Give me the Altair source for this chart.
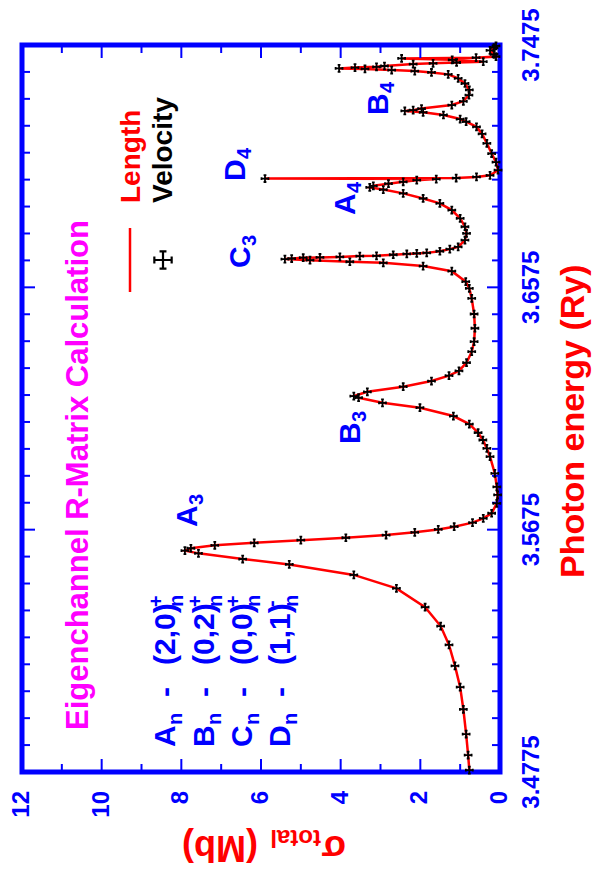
import altair as alt
import pandas as pd

# ---------------- data ----------------
energy = [3.4782, 3.4838, 3.4916, 3.5008, 3.5090, 3.5169, 3.5247, 3.5317, 3.5387, 3.5457,
          3.5507, 3.5546, 3.5566, 3.5587, 3.5597, 3.5606, 3.5617, 3.5626, 3.5636, 3.5645,
          3.5655, 3.5665, 3.5676, 3.5686, 3.5701, 3.5717, 3.5736, 3.5773, 3.5804, 3.5834,
          3.5884, 3.5946, 3.5977, 3.6008, 3.6035, 3.6067, 3.6097, 3.6128, 3.6146, 3.6165,
          3.6171, 3.6187, 3.6206, 3.6227, 3.6247, 3.6265, 3.6295, 3.6336, 3.6373, 3.6423,
          3.6476, 3.6534, 3.6571, 3.6596, 3.6635, 3.6654, 3.6666, 3.6670, 3.6676, 3.6680,
          3.6682, 3.6685, 3.6686, 3.6688, 3.6691, 3.6692, 3.6696, 3.6699, 3.6701, 3.6703,
          3.6709, 3.6717, 3.6725, 3.6750, 3.6775, 3.6800, 3.6831, 3.6862, 3.6887, 3.6905,
          3.6924, 3.6938, 3.6946, 3.6952, 3.6960, 3.6967, 3.6973, 3.6977, 3.6979, 3.6981,
          3.6985, 3.6991, 3.7010, 3.7040, 3.7072, 3.7110, 3.7145, 3.7171, 3.7190, 3.7200,
          3.7215, 3.7225, 3.7230, 3.7233, 3.7239, 3.7252, 3.7266, 3.7289, 3.7308, 3.7332,
          3.7351, 3.7366, 3.7373, 3.7378, 3.7382, 3.7386, 3.7388, 3.7391, 3.7394, 3.7397,
          3.7404, 3.7407, 3.7410, 3.7413, 3.7420, 3.7425, 3.7428, 3.7432, 3.7440, 3.7455,
          3.7465, 3.7472]
sigma = [0.77, 0.80, 0.85, 0.92, 1.00, 1.13, 1.28, 1.49, 1.88, 2.60,
         3.67, 5.29, 6.46, 7.57, 7.91, 7.76, 7.16, 6.17, 5.00, 3.87,
         2.86, 2.14, 1.55, 1.15, 0.69, 0.42, 0.21, 0.08, 0.06, 0.08,
         0.13, 0.25, 0.33, 0.43, 0.55, 0.77, 1.17, 2.01, 2.95, 3.55,
         3.67, 3.33, 2.43, 1.72, 1.28, 1.03, 0.84, 0.71, 0.65, 0.63,
         0.65, 0.71, 0.77, 0.86, 1.21, 1.93, 2.93, 3.77, 4.77, 5.40,
         5.23, 4.94, 4.52, 4.02, 3.52, 3.10, 2.68, 2.34, 2.09, 1.84,
         1.51, 1.26, 1.05, 0.88, 0.84, 0.88, 1.00, 1.21, 1.51, 1.93,
         2.43, 2.93, 3.27, 3.18, 2.80, 2.43, 2.09, 1.60, 5.90, 1.10,
         0.59, 0.25, 0.05, 0.10, 0.21, 0.33, 0.45, 0.59, 0.85, 1.00,
         1.42, 1.93, 2.39, 2.18, 1.97, 1.21, 0.92, 0.78, 0.77, 0.88,
         1.05, 1.30, 1.72, 2.14, 2.72, 3.39, 4.04, 3.64, 3.10, 2.90,
         2.18, 1.68, 1.09, 0.42, 1.20, 2.47, 0.60, 0.10, 0.15, 0.25,
         0.15, 0.10]

sigma_labels = [0, 2, 4, 6, 8, 10, 12]
sigma_major_ticks = [2, 4, 6, 8, 10]
sigma_minor_ticks = [1, 3, 5, 7, 9, 11]
energy_labels = [3.4775, 3.5675, 3.6575, 3.7475]
energy_major_ticks = [3.5675, 3.6575]
energy_minor_ticks = [3.4875, 3.4975, 3.5075, 3.5175, 3.5275, 3.5375, 3.5475, 3.5575,
                      3.5775, 3.5875, 3.5975, 3.6075, 3.6175, 3.6275, 3.6375, 3.6475,
                      3.6675, 3.6775, 3.6875, 3.6975, 3.7075, 3.7175, 3.7275, 3.7375]

# ---------------- layout ----------------
W, H = 478, 727
PL, PT = 22, 45
BLUE, RED, MAG = "#0000ff", "#ff0000", "#ff00ff"
FONT = "Liberation Sans"

xs = alt.Scale(domain=[0, 12], reverse=True, nice=False, zero=False)
ys = alt.Scale(domain=[3.4775, 3.7475], nice=False, zero=False)

df = pd.DataFrame({"E": energy, "S": sigma, "i": list(range(len(energy)))})

line = alt.Chart(df).mark_line(color=RED, strokeWidth=2.5).encode(
    x=alt.X("S:Q", scale=xs, axis=None),
    y=alt.Y("E:Q", scale=ys, axis=None),
    order="i:Q",
)

PLUS = ("M-1,0L1,0M0,-1L0,1M-1,-0.4L-1,0.4M1,-0.4L1,0.4"
        "M-0.4,-1L0.4,-1M-0.4,1L0.4,1")

pts = alt.Chart(df).mark_point(shape=PLUS, filled=False, color="black",
                               strokeWidth=1.8, size=48, opacity=1).encode(
    x=alt.X("S:Q", scale=xs, axis=None),
    y=alt.Y("E:Q", scale=ys, axis=None),
)

# tick labels drawn through the scales
sig_lab = alt.Chart(pd.DataFrame({"v": sigma_labels})).mark_text(
    angle=270, align="right", baseline="middle", font=FONT, fontWeight="bold",
    fontSize=24, color=BLUE).encode(
    x=alt.X("v:Q", scale=xs, axis=None), y=alt.value(H + 19),
    text=alt.Text("v:Q", format="d"))
en_lab = alt.Chart(pd.DataFrame({"v": energy_labels})).mark_text(
    angle=270, align="center", baseline="top", font=FONT, fontWeight="bold",
    fontSize=24, color=BLUE).encode(
    y=alt.Y("v:Q", scale=ys, axis=None), x=alt.value(W + 20),
    text=alt.Text("v:Q", format=".4f"))


def sig_ticks(vals, length):
    d = pd.DataFrame({"v": vals})
    base = alt.Chart(d).mark_rule(color=BLUE, strokeWidth=2)
    bot = base.encode(x=alt.X("v:Q", scale=xs, axis=None),
                      y=alt.value(H), y2=alt.value(H - length))
    top = base.encode(x=alt.X("v:Q", scale=xs, axis=None),
                      y=alt.value(0), y2=alt.value(length))
    return [bot, top]


def en_ticks(vals, length):
    d = pd.DataFrame({"v": vals})
    base = alt.Chart(d).mark_rule(color=BLUE, strokeWidth=2)
    lft = base.encode(y=alt.Y("v:Q", scale=ys, axis=None),
                      x=alt.value(0), x2=alt.value(length))
    rgt = base.encode(y=alt.Y("v:Q", scale=ys, axis=None),
                      x=alt.value(W), x2=alt.value(W - length))
    return [lft, rgt]


ticks = (sig_ticks(sigma_major_ticks, 13) + sig_ticks(sigma_minor_ticks, 8)
         + en_ticks(energy_major_ticks, 13) + en_ticks(energy_minor_ticks, 8))


def txt(text, px, py, size, color, angle=270):
    d = pd.DataFrame({"t": [text]})
    return alt.Chart(d).mark_text(angle=angle, align="left", baseline="alphabetic",
                                  font=FONT, fontWeight="bold", fontSize=size,
                                  color=color).encode(
        x=alt.value(px - PL), y=alt.value(py - PT), text="t:N")


texts = []
texts.append(txt("Eigenchannel R-Matrix Calculation", 88, 730, 31, MAG))
texts.append(txt("Length", 140, 203, 28, RED))
texts.append(txt("Velocity", 172, 203, 28, "black"))
leg_line = alt.Chart(pd.DataFrame({"a": [0]})).mark_rule(color=RED, strokeWidth=2.5).encode(
    x=alt.value(130 - PL), y=alt.value(228 - PT), y2=alt.value(292 - PT))
leg_pt = alt.Chart(pd.DataFrame({"a": [0]})).mark_point(
    shape=PLUS, filled=False, color="black", strokeWidth=2.2, size=300, opacity=1).encode(
    x=alt.value(163 - PL), y=alt.value(260 - PT))

res_labels = [("A", "3", 197, 527), ("B", "3", 360, 444), ("C", "3", 250, 268),
              ("D", "4", 245, 181), ("A", "4", 355, 215), ("B", "4", 388, 115)]
for L, n, bx, by in res_labels:
    texts.append(txt(L, bx, by, 30, BLUE))
    texts.append(txt(n, bx + 6, by - 22, 20, BLUE))

key_letters = ["A", "B", "C", "D"]
key_pairs = ["(2,0)", "(0,2)", "(0,0)", "(1,1)"]
key_sups = ["+", "+", "+", "-"]
key_x = [175, 214, 252, 290]
for L, p, s, bx in zip(key_letters, key_pairs, key_sups, key_x):
    texts.append(txt(L, bx, 747, 30, BLUE))
    texts.append(txt("n", bx + 7, 725, 20, BLUE))
    texts.append(txt("-", bx, 697, 30, BLUE))
    texts.append(txt(p, bx, 665, 30, BLUE))
    texts.append(txt(s, bx - 12, 607, 20, BLUE))
    texts.append(txt("n", bx + 8, 607, 20, BLUE))

texts.append(txt("Photon energy (Ry)", 584, 578, 34, RED))
texts.append(txt("σ", 346, 836, 36, RED, angle=180))
texts.append(txt("total", 321, 830, 24, RED, angle=180))
texts.append(txt("(Mb)", 258, 836, 36, RED, angle=180))

chart = alt.layer(line, *ticks, pts, sig_lab, en_lab, leg_line, leg_pt, *texts).properties(
    width=W, height=H,
    autosize=alt.AutoSizeParams(type="none"),
    padding={"left": PL, "top": PT, "right": 607 - PL - W, "bottom": 876 - PT - H},
).configure_view(stroke=BLUE, strokeWidth=5)

chart.save("out.html", embed_options={"renderer": "svg", "actions": False})
